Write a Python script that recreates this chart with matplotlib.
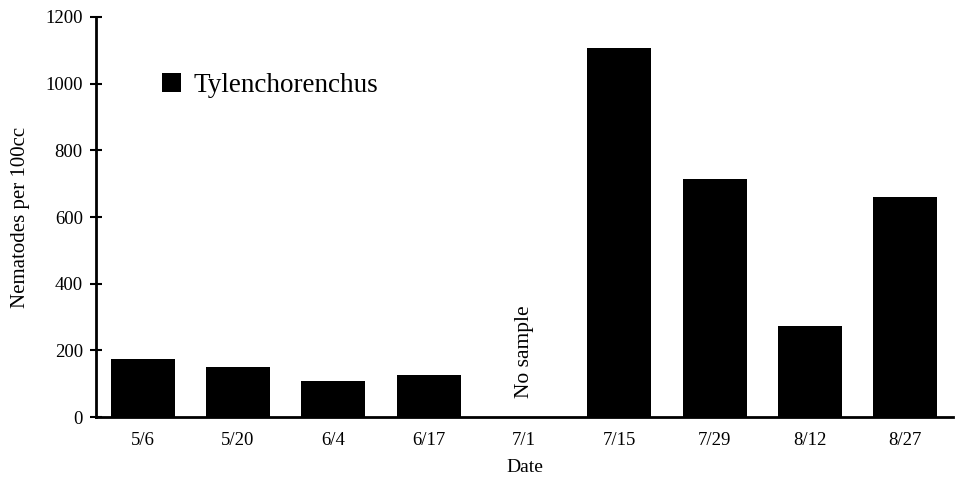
import numpy as np
import matplotlib
matplotlib.use("Agg")
import matplotlib.pyplot as plt

dates = ["5/6", "5/20", "6/4", "6/17", "7/1", "7/15", "7/29", "8/12", "8/27"]
tylenchorenchus = [174, 149, 109, 125, np.nan, 1106, 714, 274, 659]
y_ticks = [0, 200, 400, 600, 800, 1000, 1200]
no_sample_label = "No sample"
series_name = "Tylenchorenchus"

plt.rcParams['font.family'] = ['Liberation Serif', 'DejaVu Serif']

fig = plt.figure(figsize=(9.59, 4.82), dpi=100)
ax = fig.add_axes([96/959, 65/482, 857/959, 400/482])

x = np.arange(len(dates))
vals = np.array(tylenchorenchus, dtype=float)
ax.bar(x, np.nan_to_num(vals), width=0.67, color='black', label=series_name)

for i, v in enumerate(vals):
    if np.isnan(v):
        ax.annotate(no_sample_label, xy=(x[i], 0), xytext=(0, 14), textcoords='offset points',
                    rotation=90, ha='center', va='bottom', fontsize=15.5)

ax.set_xlim(-0.49, len(dates) - 0.5)
ax.set_ylim(0, 1200)
ax.set_xticks(x)
ax.set_xticklabels(dates, fontsize=13.5)
ax.set_yticks(y_ticks)
ax.set_yticklabels([str(t) for t in y_ticks], fontsize=13.5)
ax.tick_params(axis='x', length=0, pad=11)
ax.tick_params(axis='y', direction='inout', length=9, width=1.5, pad=5)

for s in ['top', 'right']:
    ax.spines[s].set_visible(False)
for s in ['left', 'bottom']:
    ax.spines[s].set_linewidth(2)

ax.set_xlabel("Date", fontsize=14, labelpad=7)
ax.set_ylabel("Nematodes per 100cc", fontsize=15, labelpad=11)

leg = ax.legend(loc='center left', bbox_to_anchor=((162-96)/857, (417-85)/400),
                frameon=False, fontsize=19.5, handlelength=0.7, handleheight=0.7,
                handletextpad=0.45, borderpad=0, borderaxespad=0)

fig.savefig("out.png", dpi=100)
